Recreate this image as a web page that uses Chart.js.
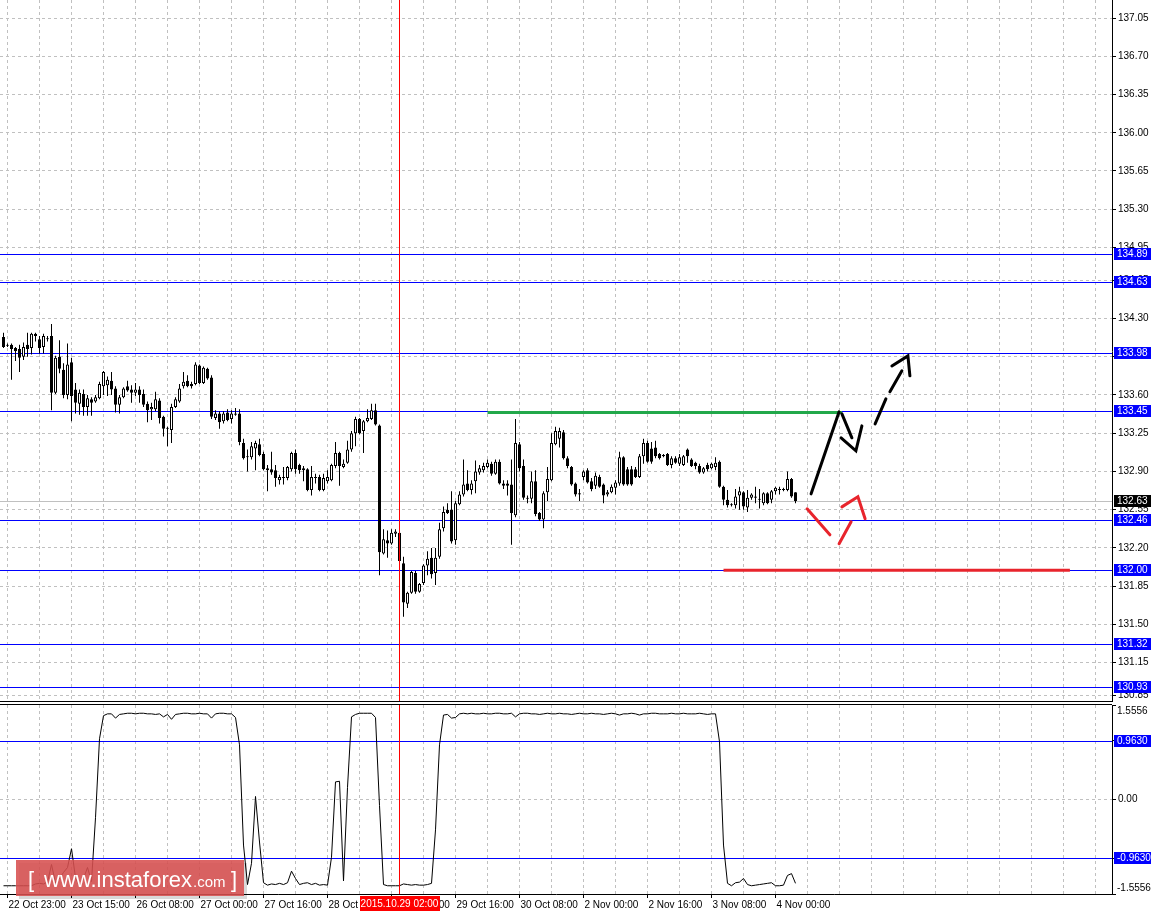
<!DOCTYPE html>
<html>
<head>
<meta charset="utf-8">
<title>H1 chart</title>
<script src="https://cdn.jsdelivr.net/npm/chart.js@4.4.0/dist/chart.umd.min.js"></script>
<style>
  html, body { margin: 0; padding: 0; background: #fff; }
  #wrap { position: relative; width: 1154px; height: 913px; overflow: hidden; }
  #mainBox { position: absolute; left: 0; top: 0; width: 1154px; height: 702px; }
  #oscBox { position: absolute; left: 0; top: 702px; width: 1154px; height: 211px; }
</style>
</head>
<body>
<div id="wrap">
  <div id="mainBox"><canvas id="priceChart"></canvas></div>
  <div id="oscBox"><canvas id="oscChart"></canvas></div>
</div>
<script>
// ---- data (hourly bars) ----
const opens = [
  134.13,134.05,134.06,134.03,134.02,133.95,134.06,134.03,134.16,134.11,
  134.04,134.12,134.14,133.62,133.95,133.83,133.60,133.90,133.65,133.52,
  133.61,133.49,133.56,133.54,133.57,133.68,133.69,133.73,133.66,133.51,
  133.58,133.68,133.65,133.62,133.65,133.61,133.52,133.47,133.47,133.55,
  133.40,133.30,133.28,133.49,133.54,133.68,133.73,133.70,133.70,133.87,
  133.71,133.84,133.76,133.39,133.43,133.36,133.44,133.38,133.43,133.43,
  133.16,133.04,133.03,133.11,133.15,133.06,132.91,132.92,132.91,132.82,
  132.85,132.84,132.92,133.07,132.96,132.93,132.92,132.73,132.85,132.85,
  132.73,132.81,132.82,132.95,133.07,132.94,132.98,133.10,133.25,133.38,
  133.27,133.36,133.38,133.46,133.32,132.15,132.27,132.24,132.33,132.34,
  132.06,131.69,131.79,131.97,131.80,131.88,132.04,132.11,131.97,132.12,
  132.38,132.55,132.55,132.27,132.60,132.69,132.79,132.73,132.81,132.89,
  132.91,132.94,132.97,132.88,132.99,132.79,132.79,132.78,132.50,133.15,
  132.95,132.66,132.65,132.81,132.52,132.46,132.71,132.82,133.15,133.20,
  133.26,133.02,132.94,132.79,132.70,132.85,132.91,132.81,132.77,132.85,
  132.78,132.69,132.71,132.75,132.79,133.03,132.92,132.92,132.92,132.85,
  133.04,133.16,133.11,133.12,133.06,133.05,133.06,132.96,133.02,132.97,
  132.96,133.10,133.01,132.98,132.95,132.89,132.96,132.93,132.94,132.99,
  132.76,132.64,132.60,132.59,132.68,132.71,132.57,132.66,132.67,132.65,
  132.61,132.70,132.64,132.72,132.74,132.74,132.73,132.83,132.71
];
const highs = [
  134.17,134.07,134.07,134.04,134.06,134.08,134.17,134.17,134.17,134.14,
  134.16,134.14,134.25,133.96,134.10,133.89,134.07,133.94,133.71,133.65,
  133.65,133.60,133.58,133.60,133.72,133.82,133.77,133.81,133.68,133.60,
  133.67,133.73,133.69,133.71,133.68,133.65,133.54,133.53,133.63,133.57,
  133.41,133.31,133.52,133.58,133.70,133.81,133.78,133.72,133.90,133.88,
  133.86,133.85,133.78,133.46,133.45,133.45,133.47,133.46,133.48,133.47,
  133.20,133.10,133.17,133.18,133.20,133.08,132.96,133.08,132.96,132.87,
  132.94,132.95,133.08,133.10,132.97,132.95,132.93,132.95,132.88,132.87,
  132.88,132.91,132.97,133.17,133.08,133.01,133.18,133.27,133.40,133.39,
  133.37,133.47,133.52,133.52,133.33,132.37,132.36,132.37,132.37,132.36,
  132.12,131.80,131.99,131.99,131.88,132.05,132.17,132.20,132.20,132.43,
  132.58,132.61,132.72,132.63,132.72,133.01,132.91,132.82,133.00,132.96,
  132.98,133.01,132.99,133.01,133.01,132.82,132.82,133.01,133.38,133.17,
  133.01,132.68,132.90,132.91,132.53,132.72,132.94,133.25,133.31,133.30,
  133.28,133.04,132.95,132.80,132.74,132.91,132.93,132.84,132.89,132.87,
  132.79,132.73,132.78,132.82,133.08,133.04,132.94,132.95,132.94,133.06,
  133.20,133.18,133.17,133.18,133.07,133.06,133.07,133.04,133.04,133.06,
  133.05,133.11,133.02,132.99,132.97,132.94,132.98,132.98,133.03,133.00,
  132.77,132.73,132.61,132.74,132.76,132.72,132.73,132.70,132.76,132.74,
  132.71,132.71,132.73,132.76,132.76,132.75,132.90,132.84,132.71
];
const lows = [
  134.03,134.04,133.74,133.91,133.81,133.92,133.95,133.97,134.09,133.98,
  133.98,134.09,133.46,133.61,133.80,133.57,133.56,133.36,133.43,133.42,
  133.41,133.41,133.41,133.53,133.56,133.60,133.59,133.60,133.44,133.43,
  133.57,133.63,133.53,133.59,133.53,133.49,133.35,133.37,133.45,133.34,
  133.22,133.13,133.16,133.48,133.53,133.66,133.67,133.66,133.69,133.70,
  133.70,133.74,133.38,133.37,133.29,133.34,133.36,133.34,133.41,133.14,
  133.01,132.90,133.01,132.91,133.04,132.91,132.72,132.87,132.76,132.78,
  132.78,132.82,132.90,132.88,132.88,132.81,132.72,132.68,132.79,132.72,
  132.72,132.79,132.81,132.93,132.77,132.93,132.97,133.08,133.13,133.24,
  133.07,133.35,133.37,133.32,131.95,132.14,132.11,132.23,132.30,132.04,
  131.57,131.65,131.78,131.78,131.79,131.86,131.95,131.92,131.86,132.10,
  132.35,132.51,132.24,132.23,132.59,132.67,132.72,132.69,132.70,132.87,
  132.89,132.93,132.86,132.87,132.78,132.74,132.68,132.23,132.48,132.90,
  132.64,132.61,132.61,132.49,132.45,132.38,132.63,132.81,133.14,133.12,
  133.01,132.93,132.77,132.67,132.63,132.82,132.79,132.72,132.74,132.75,
  132.61,132.67,132.70,132.69,132.77,132.77,132.77,132.77,132.84,132.84,
  132.97,132.98,132.97,133.02,133.01,133.03,132.95,132.93,132.97,132.95,
  132.95,132.98,132.94,132.92,132.88,132.88,132.90,132.92,132.91,132.75,
  132.59,132.57,132.58,132.56,132.55,132.55,132.53,132.64,132.61,132.56,
  132.59,132.60,132.61,132.69,132.69,132.72,132.72,132.66,132.61
];
const closes = [
  134.04,134.06,134.02,134.00,133.94,134.04,134.02,134.16,134.14,134.03,
  134.14,134.11,133.62,133.94,133.84,133.60,133.88,133.59,133.53,133.62,
  133.49,133.57,133.53,133.58,133.70,133.81,133.74,133.65,133.51,133.58,
  133.66,133.64,133.62,133.65,133.60,133.51,133.46,133.49,133.56,133.39,
  133.29,133.29,133.49,133.56,133.66,133.72,133.68,133.68,133.88,133.71,
  133.85,133.75,133.40,133.43,133.35,133.43,133.37,133.43,133.42,133.17,
  133.02,133.03,133.13,133.16,133.05,132.92,132.93,132.89,132.84,132.85,
  132.84,132.94,133.07,132.92,132.91,132.91,132.73,132.85,132.84,132.73,
  132.84,132.85,132.96,133.07,132.95,132.97,133.10,133.25,133.38,133.25,
  133.36,133.39,133.46,133.33,132.16,132.28,132.24,132.34,132.35,132.08,
  131.70,131.79,131.98,131.80,131.87,132.04,132.10,131.96,132.11,132.37,
  132.53,132.52,132.26,132.61,132.69,132.78,132.73,132.79,132.90,132.93,
  132.95,132.98,132.88,132.99,132.79,132.77,132.77,132.52,133.16,132.93,
  132.66,132.65,132.81,132.51,132.46,132.70,132.83,133.16,133.27,133.27,
  133.02,132.95,132.78,132.69,132.69,132.90,132.80,132.74,132.86,132.76,
  132.68,132.71,132.76,132.80,133.03,132.78,132.78,132.78,132.85,133.04,
  133.16,132.99,132.99,133.04,133.02,133.04,132.96,133.02,132.98,133.03,
  133.04,133.04,132.95,132.95,132.89,132.93,132.92,132.97,132.98,132.76,
  132.64,132.59,132.59,132.67,132.72,132.58,132.66,132.69,132.66,132.64,
  132.70,132.61,132.72,132.75,132.73,132.73,132.83,132.67,132.63
];
// oscillator in the lower window, one value per bar
const oscValues = [
  -1.42,-1.42,-1.42,-1.42,-1.42,-1.42,-1.42,-1.42,-1.39,-1.38,
  -1.39,-1.36,-1.07,-1.37,-1.30,-1.20,-1.12,-0.81,-1.29,-1.43,
  -1.30,-1.12,-1.35,-0.30,1.00,1.38,1.41,1.41,1.34,1.40,
  1.41,1.42,1.42,1.41,1.42,1.42,1.41,1.41,1.40,1.41,
  1.36,1.40,1.32,1.40,1.41,1.42,1.42,1.41,1.41,1.42,
  1.41,1.41,1.34,1.41,1.42,1.42,1.41,1.41,1.35,0.90,
  -0.75,-1.40,-1.05,0.05,-0.70,-1.37,-1.41,-1.39,-1.40,-1.38,
  -1.40,-1.37,-1.18,-1.30,-1.40,-1.38,-1.37,-1.40,-1.38,-1.41,
  -1.40,-1.41,-0.95,0.29,0.30,-1.34,0.20,1.36,1.40,1.42,
  1.42,1.42,1.42,1.35,-0.10,-1.40,-1.42,-1.42,-1.42,-1.42,
  -1.39,-1.40,-1.41,-1.40,-1.41,-1.41,-1.40,-1.38,-0.50,0.90,
  1.39,1.40,1.34,1.35,1.41,1.42,1.41,1.42,1.41,1.41,
  1.42,1.41,1.41,1.42,1.42,1.41,1.41,1.42,1.36,1.41,
  1.42,1.42,1.41,1.41,1.40,1.41,1.42,1.41,1.41,1.42,
  1.41,1.41,1.40,1.41,1.42,1.41,1.41,1.42,1.41,1.41,
  1.40,1.41,1.42,1.41,1.39,1.41,1.41,1.42,1.41,1.39,
  1.41,1.41,1.42,1.42,1.41,1.41,1.41,1.42,1.41,1.41,
  1.42,1.41,1.41,1.41,1.42,1.41,1.40,1.41,1.41,0.95,
  -0.75,-1.38,-1.42,-1.37,-1.36,-1.30,-1.40,-1.42,-1.41,-1.40,
  -1.39,-1.38,-1.37,-1.42,-1.42,-1.41,-1.25,-1.22,-1.38
];
// time labels, one every 16 bars starting at bar 1
const timeLabels = ['22 Oct 23:00','23 Oct 15:00','26 Oct 08:00','27 Oct 00:00','27 Oct 16:00',
  '28 Oct 08:00','29 Oct 00:00','29 Oct 16:00','30 Oct 08:00','2 Nov 00:00','2 Nov 16:00',
  '3 Nov 08:00','4 Nov 00:00'];
const priceTicks = [137.05,136.70,136.35,136.00,135.65,135.30,134.95,134.65,134.30,133.95,
  133.60,133.25,132.90,132.55,132.20,131.85,131.50,131.15,130.85];
const levelLines = [134.89,134.63,133.98,133.45,132.46,132.00,131.32,130.93];
const bidPrice = 132.63;
const oscLevels = [0.963,-0.963];
const oscTicks = [1.5556,0.963,0,-0.963,-1.5556];
const cursorBar = 99;
const cursorLabel = '2015.10.29 02:00';

// hand drawn objects, as [bar, price] points
const greenSegment = [[121,133.44],[209.6,133.44]];
const redSegment = [[180,131.995],[266.6,131.995]];
const blackArrow = [
  [[201.9,132.695],[208.9,133.446]],
  [[209.6,133.427],[212.1,133.208]],
  [[209.4,133.208],[213.1,133.089],[214.6,133.317]]
];
const blackDashArrow = [
  [[217.9,133.336],[220.6,133.565]],
  [[221.6,133.629],[224.6,133.821]],
  [[222.1,133.866],[226.1,133.958],[226.6,133.775]]
];
const redDashArrow = [
  [[200.9,132.558],[206.6,132.320]],
  [[208.9,132.238],[211.9,132.439]],
  [[209.6,132.576],[213.6,132.668],[215.4,132.467]]
];

// ---- layout ----
const X_MIN = -0.875, X_MAX = 277.125;   // 4 px per bar over a 1112 px wide plot
const P_MIN = 130.79, P_MAX = 137.215;
const O_MIN = -1.5556, O_MAX = 1.5556;
const AXIS_W = 42;
const GRID = '#c0c0c0';
const FONT_FAMILY = '"Liberation Sans", Arial, sans-serif';
const FONT = { family: FONT_FAMILY, size: 10 };

Chart.defaults.font.family = FONT_FAMILY;
Chart.defaults.color = '#000';

const gridBars = [];
for (let b = 1; b < X_MAX; b += 8) gridBars.push(b);

function labelForBar(v) {
  const k = (v - 1) / 8;
  return k % 2 === 0 ? (timeLabels[k / 2] || '') : '';
}

function xScale(showLabels) {
  return {
    type: 'linear', min: X_MIN, max: X_MAX, offset: false,
    afterBuildTicks: s => { s.ticks = gridBars.map(v => ({ value: v })); },
    afterFit: s => {
      s.paddingLeft = 0; s.paddingRight = 0;
      s.height = showLabels ? 19 : 0;
    },
    grid: {
      offset: false, color: GRID, drawTicks: showLabels, tickLength: 4,
      tickColor: c => (c.tick && labelForBar(c.tick.value)) ? '#000' : 'rgba(0,0,0,0)'
    },
    border: { display: showLabels, color: '#000', dash: [3, 3] },
    ticks: {
      display: showLabels, autoSkip: false, maxRotation: 0, minRotation: 0,
      align: 'start', padding: 1, labelOffset: 1, font: FONT, color: '#000',
      callback: v => labelForBar(v)
    }
  };
}

function yScale(min, max, ticks, fmt, gridColor) {
  return {
    position: 'right', min: min, max: max,
    afterBuildTicks: s => { s.ticks = ticks.map(v => ({ value: v })); },
    afterFit: s => { s.width = AXIS_W; s.paddingTop = 0; s.paddingBottom = 0; },
    grid: { color: gridColor, tickColor: '#000', tickLength: 4 },
    border: { display: true, color: '#000', dash: [3, 3] },
    ticks: { autoSkip: false, padding: 2, font: FONT, color: '#000', callback: fmt }
  };
}

function pathOf(chart, pts) {
  const { x, y } = chart.scales;
  const ctx = chart.ctx;
  ctx.beginPath();
  pts.forEach((p, i) => {
    const px = x.getPixelForValue(p[0]), py = y.getPixelForValue(p[1]);
    if (i === 0) ctx.moveTo(px, py); else ctx.lineTo(px, py);
  });
  ctx.stroke();
}

function hline(ctx, area, py, color) {
  const yy = Math.round(py) + 0.5;
  ctx.strokeStyle = color;
  ctx.beginPath();
  ctx.moveTo(area.left, yy);
  ctx.lineTo(area.right, yy);
  ctx.stroke();
}

function cursorLine(chart) {
  const { ctx, chartArea: a, scales: { x } } = chart;
  const px = Math.floor(x.getPixelForValue(cursorBar)) + 0.5;
  ctx.save();
  ctx.strokeStyle = '#ff0000';
  ctx.lineWidth = 1;
  ctx.beginPath();
  ctx.moveTo(px, a.top);
  ctx.lineTo(px, a.bottom);
  ctx.stroke();
  ctx.restore();
}

function axisTag(chart, text, value, bg) {
  const { ctx, chartArea: a, scales: { y } } = chart;
  const py = Math.round(y.getPixelForValue(value));
  ctx.save();
  ctx.fillStyle = bg;
  ctx.fillRect(a.right + 2, py - 6, 37, 12);
  ctx.fillStyle = '#fff';
  ctx.font = '10px ' + FONT_FAMILY;
  ctx.textBaseline = 'middle';
  ctx.textAlign = 'left';
  ctx.fillText(text, a.right + 5, py + 0.5);
  ctx.restore();
}

const priceDecor = {
  id: 'priceDecor',
  beforeDatasetsDraw(chart) {
    const { ctx, chartArea: a, scales: { y } } = chart;
    ctx.save();
    ctx.lineWidth = 1;
    hline(ctx, a, y.getPixelForValue(bidPrice), GRID);
    levelLines.forEach(v => hline(ctx, a, y.getPixelForValue(v), '#0000ff'));
    ctx.restore();
  },
  afterDatasetsDraw(chart) {
    const ctx = chart.ctx;
    ctx.save();
    ctx.lineCap = 'butt';
    ctx.lineWidth = 3;
    ctx.strokeStyle = '#22a84a';
    pathOf(chart, greenSegment);
    ctx.strokeStyle = '#e8242c';
    pathOf(chart, redSegment);
    ctx.lineWidth = 3;
    ctx.lineCap = 'round';
    ctx.strokeStyle = '#000';
    blackArrow.forEach(s => pathOf(chart, s));
    blackDashArrow.forEach(s => pathOf(chart, s));
    ctx.strokeStyle = '#e8242c';
    redDashArrow.forEach(s => pathOf(chart, s));
    ctx.restore();
    cursorLine(chart);
  },
  afterDraw(chart) {
    const { ctx, chartArea: a } = chart;
    ctx.save();
    ctx.strokeStyle = '#000';
    ctx.lineWidth = 1;
    ctx.beginPath();
    ctx.moveTo(a.left, a.bottom - 0.5);
    ctx.lineTo(a.right, a.bottom - 0.5);
    ctx.stroke();
    ctx.restore();
    levelLines.forEach(v => axisTag(chart, v.toFixed(2), v, '#0000ff'));
    axisTag(chart, bidPrice.toFixed(2), bidPrice, '#000');
  }
};

const oscDecor = {
  id: 'oscDecor',
  beforeDatasetsDraw(chart) {
    const { ctx, chartArea: a, scales: { y } } = chart;
    ctx.save();
    ctx.lineWidth = 1;
    oscLevels.forEach(v => hline(ctx, a, y.getPixelForValue(v), '#0000ff'));
    ctx.restore();
  },
  afterDatasetsDraw(chart) {
    cursorLine(chart);
  },
  afterDraw(chart) {
    const { ctx, chartArea: a, scales: { x } } = chart;
    ctx.save();
    ctx.strokeStyle = '#000';
    ctx.lineWidth = 1;
    ctx.beginPath();
    ctx.moveTo(a.left, a.top - 0.5);
    ctx.lineTo(a.right, a.top - 0.5);
    ctx.stroke();
    // labels of the window's range sit just inside its edges
    ctx.fillStyle = '#000';
    ctx.font = '10px ' + FONT_FAMILY;
    ctx.textBaseline = 'middle';
    ctx.fillText(O_MAX.toFixed(4), a.right + 5, a.top + 6);
    ctx.fillText(O_MIN.toFixed(4), a.right + 5, a.bottom - 6);
    ctx.restore();
    oscLevels.forEach(v => axisTag(chart, v.toFixed(4), v, '#0000ff'));

    // time of the cursor
    const cx = Math.floor(x.getPixelForValue(cursorBar)) + 0.5;
    ctx.save();
    ctx.fillStyle = '#ff0000';
    ctx.fillRect(Math.round(cx - 40), a.bottom + 2, 80, 15);
    ctx.fillStyle = '#fff';
    ctx.font = '10px ' + FONT_FAMILY;
    ctx.textAlign = 'center';
    ctx.textBaseline = 'middle';
    ctx.fillText(cursorLabel, cx, a.bottom + 10);
    ctx.restore();

    // watermark
    ctx.save();
    ctx.fillStyle = 'rgba(0,0,0,0.15)';
    ctx.fillRect(19, 161, 228, 36);
    ctx.fillStyle = 'rgba(215,80,80,0.88)';
    ctx.fillRect(16, 158, 228, 36);
    ctx.fillStyle = '#fff';
    ctx.textBaseline = 'alphabetic';
    ctx.font = '22px ' + FONT_FAMILY;
    ctx.fillText('[', 28, 185);
    ctx.fillText('www.instaforex', 44, 185);
    ctx.fillText(']', 231, 185);
    ctx.font = '15px ' + FONT_FAMILY;
    ctx.fillText('.com', 193, 185);
    ctx.restore();
  }
};

const barIdx = opens.map((_, i) => i);

new Chart(document.getElementById('priceChart'), {
  type: 'bar',
  data: {
    datasets: [
      {
        data: barIdx.map(i => ({ x: i, y: [lows[i], highs[i]] })),
        backgroundColor: '#000', borderWidth: 0, barThickness: 1,
        grouped: false, inflateAmount: 0, order: 1
      },
      {
        data: barIdx.map(i => ({ x: i, y: [opens[i], closes[i]] })),
        backgroundColor: c => closes[c.dataIndex] > opens[c.dataIndex] ? '#fff' : '#000',
        borderColor: '#000', borderWidth: 1, borderSkipped: false, barThickness: 3,
        grouped: false, inflateAmount: 0, order: 0
      }
    ]
  },
  options: {
    responsive: true, maintainAspectRatio: false, animation: false, events: [],
    layout: { padding: 0 },
    plugins: { legend: { display: false }, tooltip: { enabled: false } },
    scales: {
      x: xScale(false),
      y: yScale(P_MIN, P_MAX, priceTicks, v => v.toFixed(2), GRID)
    }
  },
  plugins: [priceDecor]
});

new Chart(document.getElementById('oscChart'), {
  type: 'line',
  data: {
    datasets: [{
      data: barIdx.map(i => ({ x: i, y: oscValues[i] })),
      borderColor: '#000', borderWidth: 1, pointRadius: 0, tension: 0, fill: false
    }]
  },
  options: {
    responsive: true, maintainAspectRatio: false, animation: false, events: [],
    layout: { padding: { top: 3, left: 0, right: 0, bottom: 0 } },
    plugins: { legend: { display: false }, tooltip: { enabled: false } },
    scales: {
      x: xScale(true),
      y: yScale(O_MIN, O_MAX, oscTicks, v => (v === 0 ? '0.00' : ''),
        c => (c.tick && c.tick.value === 0) ? GRID : 'rgba(0,0,0,0)')
    }
  },
  plugins: [oscDecor]
});
</script>
</body>
</html>
